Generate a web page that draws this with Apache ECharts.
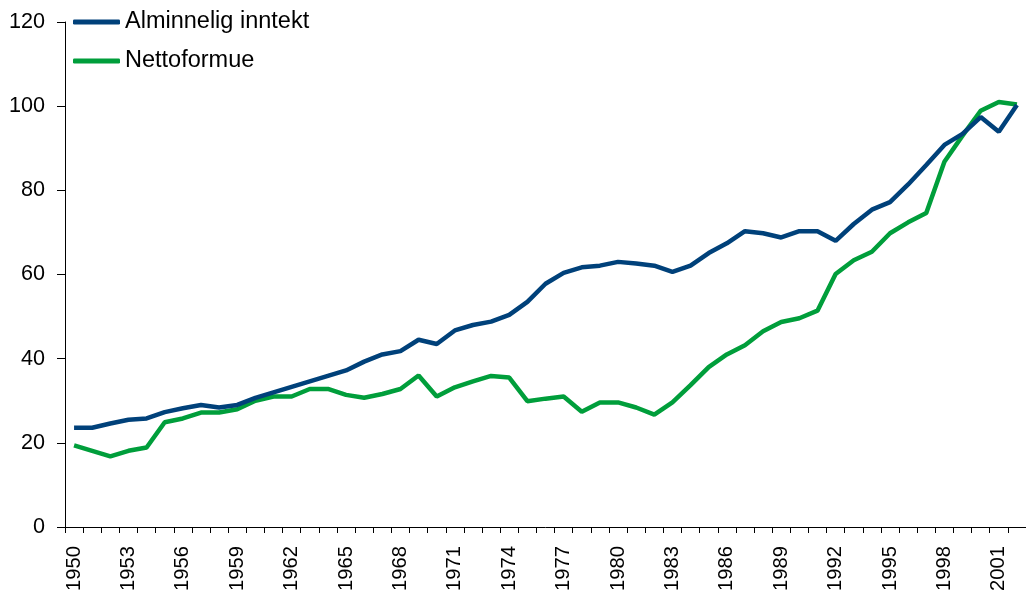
<!DOCTYPE html>
<html><head><meta charset="utf-8">
<script src="https://cdn.jsdelivr.net/npm/echarts@6/dist/echarts.min.js"></script>
<style>html,body{margin:0;padding:0;background:#fff}#c{width:1026px;height:597px}</style>
</head><body><div id="c"></div>
<script>
const years = [];
for (let y = 1950; y <= 2002; y++) years.push(String(y));
const seriesNames = ['Alminnelig inntekt', 'Nettoformue'];
const inntekt = [23.6,23.6,24.6,25.5,25.8,27.3,28.2,29.0,28.4,29.0,30.7,32.0,33.3,34.6,35.9,37.2,39.3,41.0,41.8,44.5,43.5,46.7,48.0,48.8,50.4,53.5,57.8,60.4,61.7,62.1,63.0,62.6,62.1,60.6,62.1,65.1,67.4,70.3,69.8,68.8,70.3,70.3,68.0,72.0,75.4,77.2,81.4,86.0,90.8,93.4,97.4,93.9,100.3];
const formue = [19.4,18.1,16.8,18.1,18.9,24.9,25.8,27.2,27.2,28.0,30.0,31.0,31.0,32.8,32.8,31.4,30.7,31.6,32.8,36.0,31.0,33.2,34.6,35.9,35.5,29.9,30.5,31.0,27.4,29.6,29.6,28.4,26.7,29.6,33.7,38.0,41.0,43.2,46.5,48.7,49.6,51.4,60.1,63.4,65.4,69.8,72.4,74.6,86.8,93.0,98.9,101.0,100.4];
const colors = ['#00417A', '#009E3B'];
const chart = echarts.init(document.getElementById('c'));
const font = 'Liberation Sans, Arial, sans-serif';
chart.setOption({
  animation: false,
  textStyle: {fontFamily: font},
  grid: {left: 65, right: -2, top: 22, bottom: 70},
  legend: {
    orient: 'vertical', left: 73, top: 10, itemGap: 15, padding: 0,
    itemWidth: 47, itemHeight: 5, icon: 'roundRect',
    textStyle: {fontSize: 23.5, color: '#000', fontFamily: font},
    data: seriesNames
  },
  xAxis: {
    type: 'category', data: years, boundaryGap: true,
    axisLine: {lineStyle: {color: '#000', width: 1}},
    axisTick: {show: true, interval: 0, length: 6, lineStyle: {color: '#000'}},
    axisLabel: {interval: 2, rotate: 90, fontSize: 20.2, color: '#000', margin: 19, fontFamily: font}
  },
  yAxis: {
    type: 'value', min: 0, max: 120, interval: 20,
    axisLine: {show: true, lineStyle: {color: '#000', width: 1}},
    axisTick: {show: true, inside: false, length: 8, lineStyle: {color: '#000'}},
    splitLine: {show: false},
    axisLabel: {fontSize: 21.6, color: '#000', margin: 20, fontFamily: font}
  },
  series: [
    {name: seriesNames[0], type: 'line', data: inntekt, showSymbol: false, symbol: 'none',
     lineStyle: {color: colors[0], width: 4.5}, itemStyle: {color: colors[0]}, z: 3},
    {name: seriesNames[1], type: 'line', data: formue, showSymbol: false, symbol: 'none',
     lineStyle: {color: colors[1], width: 4.5}, itemStyle: {color: colors[1]}, z: 2}
  ]
});
</script></body></html>
